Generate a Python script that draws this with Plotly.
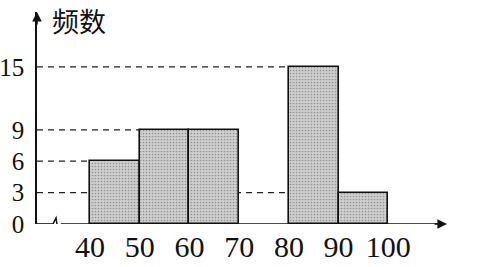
import plotly.graph_objects as go

bin_left = [40, 50, 60, 70, 80, 90]
bin_width = 10
counts = [6, 9, 9, 0, 15, 3]
y_ticks = [0, 3, 6, 9, 15]
x_ticks = [40, 50, 60, 70, 80, 90, 100]
x_title = "分数"
y_title = "频数"

X0, X1 = 29.34, 111.8
Y0, Y1 = 0, 20.25

fig = go.Figure()
fig.add_trace(go.Bar(
    x=[l + bin_width / 2 for l in bin_left],
    y=counts,
    width=bin_width,
    marker=dict(
        color="#c8c8c8",
        line=dict(color="#111", width=[1.6 if c > 0 else 0 for c in counts]),
        pattern=dict(shape=".", fgcolor="#5a5a5a", bgcolor="#cfcfcf", size=3, solidity=0.25),
    ),
    showlegend=False,
    hoverinfo="skip",
))

shapes = []
# dashed guide lines: from y axis to the left edge of the first bar of that height
for v in y_ticks[1:]:
    idx = counts.index(v)
    shapes.append(dict(type="line", xref="x", yref="y", x0=X0, x1=bin_left[idx],
                       y0=v, y1=v, layer="below",
                       line=dict(color="#222", width=1.3, dash="6px,5px")))

def px2x(p):
    return X0 + (p - 37) / 4.97

def py2y(p):
    return (224 - p) / 10.47

# x axis with break symbol
shapes.append(dict(type="line", xref="x", yref="y", x0=X0, x1=px2x(53), y0=0, y1=0,
                   line=dict(color="#111", width=1.6)))
shapes.append(dict(type="path", xref="x", yref="y",
                   path=f"M {px2x(53)} 0 L {px2x(56)} {py2y(218)} L {px2x(58)} {py2y(231)} L {px2x(61)} 0",
                   line=dict(color="#111", width=1.5)))
shapes.append(dict(type="line", xref="x", yref="y", x0=px2x(61), x1=X1 - 1.5, y0=0, y1=0,
                   line=dict(color="#111", width=1.6)))

annotations = [
    dict(x=X1, y=0, xref="x", yref="y", ax=-14, ay=0, text="", showarrow=True,
         arrowhead=2, arrowsize=1.2, arrowwidth=1.6, arrowcolor="#111"),
    dict(x=X0, y=Y1, xref="x", yref="y", ax=0, ay=14, text="", showarrow=True,
         arrowhead=2, arrowsize=1.2, arrowwidth=1.6, arrowcolor="#111"),
    dict(x=px2x(79), y=py2y(20), xref="x", yref="y", text=y_title, showarrow=False,
         font=dict(family="Noto Sans CJK SC", size=27, color="#111")),
    dict(x=px2x(461), y=py2y(250), xref="x", yref="y", text=x_title, showarrow=False,
         font=dict(family="Noto Sans CJK SC", size=29, color="#111")),
]

fig.update_layout(
    width=499, height=267,
    margin=dict(l=37, r=52, t=12, b=43, autoexpand=False),
    paper_bgcolor="white", plot_bgcolor="white",
    bargap=0,
    shapes=shapes,
    annotations=annotations,
    xaxis=dict(range=[X0, X1], tickvals=x_ticks, ticktext=[str(t) for t in x_ticks],
               showgrid=False, zeroline=False, showline=False, ticks="", automargin=False,
               tickfont=dict(family="Liberation Serif", size=30, color="#111"),
               ticklabelstandoff=2),
    yaxis=dict(range=[Y0, Y1], tickvals=y_ticks, ticktext=[str(t) for t in y_ticks],
               showgrid=False, zeroline=False, showline=True, linecolor="#111", linewidth=1.6,
               ticks="", automargin=False,
               tickfont=dict(family="Liberation Serif", size=25, color="#111"),
               ticklabelstandoff=6),
)

fig.write_html("out.html")
